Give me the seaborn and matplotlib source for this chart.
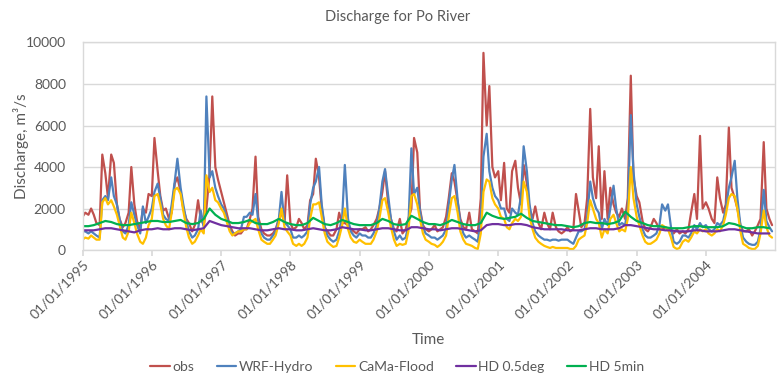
import numpy as np
import pandas as pd
import matplotlib
matplotlib.use("Agg")
import matplotlib.pyplot as plt
import matplotlib.dates as mdates
import seaborn as sns

# ---- data: discharge (m3/s), semi-monthly samples for obs and the two models ----
obs = [
    # 1995
    1600, 1800, 1700, 2000, 1700, 1300, 1200, 4600, 3700, 2500, 4600, 4200,
    2200, 1500, 1100, 1300, 1800, 4000, 2200, 1400, 1000, 2000, 1800, 2700,
    # 1996
    2600, 5400, 3800, 2600, 1900, 2000, 1500, 1800, 3200, 3500, 2800, 2000,
    1500, 1300, 900, 1200, 2400, 1500, 1200, 2000, 3700, 7400, 4000, 3400,
    # 1997
    2800, 2300, 1700, 1200, 900, 700, 800, 800, 1000, 1000, 1500, 2000,
    4500, 1600, 1000, 800, 700, 700, 800, 1000, 1500, 1800, 1300, 3600,
    # 1998
    1300, 1000, 1100, 1500, 1300, 1000, 1200, 2400, 2700, 4400, 3500, 2000,
    1100, 900, 700, 700, 1000, 1800, 1300, 1300, 1200, 1000, 900, 800,
    # 1999
    1000, 1000, 1100, 900, 1000, 1200, 1500, 2000, 2800, 3800, 2200, 1500,
    1000, 900, 1500, 800, 1000, 1500, 2000, 5400, 4700, 2000, 1200, 1000,
    # 2000
    900, 1000, 1200, 900, 1000, 1100, 1600, 2500, 3700, 3300, 2300, 1500,
    1100, 1000, 1800, 1000, 900, 800, 2500, 9500, 6000, 7900, 4000, 3500,
    # 2001
    3800, 2400, 4200, 2000, 1800, 3800, 4300, 3000, 2200, 4100, 3200, 2000,
    1500, 2100, 1300, 1000, 1800, 1300, 1000, 1800, 1100, 900, 800, 900,
    # 2002
    1100, 900, 1000, 2700, 1900, 1100, 1300, 2500, 6800, 3500, 2500, 5000,
    1500, 3800, 1500, 3000, 2200, 1800, 1600, 2000, 1500, 2500, 8400, 3500,
    # 2003
    2600, 2300, 1400, 1000, 900, 1100, 1500, 1300, 1000, 1000, 1100, 1000,
    900, 800, 1000, 800, 900, 800, 1000, 1800, 2700, 1500, 5500, 2000,
    # 2004
    2300, 2000, 1500, 1300, 3500, 2500, 1800, 2200, 5900, 3000, 2500, 2000,
    1200, 900, 900, 1000, 700, 900, 1200, 1500, 5200, 2000, 1500, 1200,
]

wrf_hydro = [
    # 1995
    900, 900, 800, 900, 800, 700, 600, 2400, 2600, 2400, 3500, 2600,
    2200, 1500, 900, 800, 1200, 2300, 1700, 1200, 800, 2100, 1300, 1600,
    # 1996
    2000, 2800, 3200, 2500, 1700, 1500, 1400, 2200, 3300, 4400, 3000, 2200,
    1400, 900, 600, 700, 1000, 1900, 1100, 7400, 3500, 3800, 3000, 2600,
    # 1997
    2200, 2000, 1500, 1000, 800, 800, 900, 1000, 1600, 1600, 1800, 1700,
    2700, 1400, 800, 600, 500, 500, 700, 900, 1500, 2800, 1300, 1200,
    # 1998
    1000, 600, 600, 700, 600, 700, 900, 2200, 3000, 3300, 4000, 2200,
    1100, 700, 500, 400, 500, 900, 1600, 4100, 1500, 900, 700, 600,
    # 1999
    800, 700, 700, 600, 600, 800, 1200, 2000, 3300, 3900, 2600, 1500,
    900, 500, 700, 500, 600, 1200, 4900, 2700, 3000, 1900, 1100, 800,
    # 2000
    700, 600, 600, 500, 600, 700, 1000, 2200, 3400, 4100, 2400, 1300,
    800, 600, 700, 600, 500, 400, 1500, 4500, 5600, 3800, 3000, 2600,
    # 2001
    2400, 2000, 2000, 1500, 1400, 2000, 1800, 1700, 2600, 5000, 3800, 2200,
    1300, 900, 700, 600, 500, 500, 450, 500, 500, 450, 500, 500,
    # 2002
    500, 400, 300, 600, 900, 900, 1000, 1600, 3300, 2500, 2000, 1800,
    1000, 1500, 1200, 2000, 3100, 2000, 1200, 1300, 1200, 2000, 6500, 3800,
    # 2003
    2200, 1600, 1000, 700, 600, 600, 700, 800, 1200, 2200, 1900, 2200,
    1100, 400, 300, 400, 700, 700, 600, 800, 1200, 1000, 1300, 1100,
    # 2004
    1200, 1000, 900, 1000, 1300, 1200, 1400, 2000, 3000, 3500, 4300, 2500,
    1200, 600, 400, 300, 250, 250, 400, 1000, 2900, 1400, 1100, 900,
]

cama_flood = [
    # 1995
    500, 600, 550, 700, 600, 500, 500, 2300, 2500, 2200, 2400, 2100,
    1700, 1200, 600, 500, 900, 1800, 1300, 800, 400, 300, 600, 1200,
    # 1996
    1500, 2600, 2700, 2200, 1500, 1200, 1000, 1800, 2900, 3000, 2700, 1900,
    1100, 600, 300, 400, 700, 1000, 800, 3600, 2800, 3000, 2400, 2300,
    # 1997
    2000, 1800, 1300, 900, 700, 800, 900, 900, 1000, 1000, 1300, 1400,
    1500, 1000, 500, 400, 300, 300, 500, 700, 1300, 2000, 1100, 900,
    # 1998
    700, 300, 200, 300, 200, 300, 600, 1500, 2200, 2200, 2300, 1600,
    800, 400, 250, 150, 200, 600, 1200, 2000, 1000, 600, 400, 350,
    # 1999
    500, 400, 300, 300, 300, 500, 900, 1500, 2400, 2500, 1800, 1100,
    500, 200, 300, 250, 300, 900, 2600, 2700, 2200, 1500, 800, 500,
    # 2000
    400, 300, 250, 150, 250, 400, 700, 1600, 2500, 2600, 1800, 900,
    500, 300, 250, 200, 100, 50, 800, 2800, 3400, 3300, 2500, 2200,
    # 2001
    2000, 1600, 1500, 1100, 1000, 1300, 1500, 1400, 1600, 3300, 2800, 1600,
    1000, 600, 400, 300, 200, 150, 100, 150, 100, 100, 100, 100,
    # 2002
    100, 50, 50, 200, 500, 600, 700, 1300, 2400, 2000, 1500, 1300,
    600, 1000, 800, 1500, 1700, 1300, 900, 1000, 900, 1500, 4000, 2500,
    # 2003
    1600, 1200, 700, 400, 300, 300, 400, 500, 800, 1200, 1100, 1000,
    600, 150, 50, 100, 400, 500, 400, 600, 900, 800, 1000, 900,
    # 2004
    1000, 800, 700, 800, 1000, 900, 1200, 1700, 2500, 2700, 2600, 2000,
    900, 300, 200, 100, 50, 50, 200, 800, 1900, 1100, 700, 600,
]

# ---- monthly values for the two HD model runs ----
hd_05deg = [
    950, 950, 950, 1000, 1050, 1050, 1000, 950, 900, 850, 950, 1000,
    1000, 1050, 1000, 1000, 1050, 1050, 1000, 950, 1000, 1050, 1400, 1300,
    1200, 1150, 1100, 1050, 1050, 1050, 1000, 950, 950, 1000, 1050, 1000,
    1000, 950, 950, 1000, 1050, 1000, 950, 950, 1000, 1100, 1050, 1000,
    1000, 950, 950, 1000, 1050, 1050, 1000, 950, 950, 1100, 1100, 1050,
    1000, 1000, 950, 1000, 1050, 1050, 1000, 950, 900, 950, 1200, 1250,
    1250, 1200, 1200, 1250, 1250, 1200, 1100, 1050, 1000, 1000, 1000, 1000,
    950, 950, 950, 1000, 1050, 1050, 1000, 1000, 1000, 1050, 1200, 1200,
    1150, 1100, 1050, 1000, 1000, 950, 950, 900, 900, 900, 950, 950,
    900, 900, 900, 950, 1000, 1000, 950, 900, 850, 800, 800, 800,
]

hd_5min = [
    1150, 1150, 1200, 1300, 1400, 1350, 1250, 1200, 1200, 1250, 1300, 1350,
    1400, 1400, 1350, 1350, 1400, 1450, 1300, 1250, 1300, 1500, 2000, 1700,
    1500, 1400, 1300, 1300, 1350, 1450, 1300, 1250, 1250, 1350, 1500, 1350,
    1250, 1200, 1200, 1300, 1550, 1400, 1250, 1200, 1300, 1450, 1350, 1250,
    1200, 1200, 1200, 1300, 1500, 1400, 1250, 1200, 1250, 1650, 1500, 1350,
    1250, 1250, 1200, 1300, 1450, 1350, 1250, 1200, 1200, 1300, 1800, 1650,
    1550, 1500, 1550, 1600, 1750, 1550, 1400, 1350, 1300, 1250, 1200, 1200,
    1150, 1100, 1150, 1300, 1350, 1300, 1300, 1250, 1300, 1400, 1850, 1600,
    1400, 1300, 1200, 1150, 1150, 1100, 1050, 1050, 1050, 1100, 1150, 1150,
    1100, 1100, 1100, 1150, 1300, 1250, 1150, 1050, 1050, 1100, 1100, 1050,
]

series_names = ["obs", "WRF-Hydro", "CaMa-Flood", "HD 0.5deg", "HD 5min"]
series_colors = ["#C0504D", "#4F81BD", "#FFC000", "#7030A0", "#00B050"]
year_ticks = list(range(1995, 2005))

semi_monthly = pd.date_range("1995-01-01", "2004-12-31", freq="SMS")
monthly = pd.date_range("1995-01-01", "2004-12-01", freq="MS")

frames = []
for name, dates, vals in [
    ("obs", semi_monthly, obs),
    ("WRF-Hydro", semi_monthly, wrf_hydro),
    ("CaMa-Flood", semi_monthly, cama_flood),
    ("HD 0.5deg", monthly, hd_05deg),
    ("HD 5min", monthly, hd_5min),
]:
    frames.append(pd.DataFrame({"date": dates, "Discharge": vals, "series": name}))
df = pd.concat(frames, ignore_index=True)

# ---- figure ----
sns.set_theme(style="white")
plt.rcParams["font.family"] = ["Lato", "DejaVu Sans"]
text_grey = "#595959"
grid_grey = "#D9D9D9"

fig = plt.figure(figsize=(7.79, 3.76), dpi=100)
ax = fig.add_axes([0.106, 0.335, 0.889, 0.552])

for name, color in zip(series_names, series_colors):
    sns.lineplot(data=df[df["series"] == name], x="date", y="Discharge",
                 color=color, linewidth=1.6, ax=ax, label=name)

ax.set_ylim(0, 10000)
ax.set_yticks(range(0, 10001, 2000))
ax.set_xlim(pd.Timestamp("1995-01-01"), pd.Timestamp("2004-12-31"))
ax.set_xticks([pd.Timestamp(f"{y}-01-01") for y in year_ticks])
ax.xaxis.set_major_formatter(mdates.DateFormatter("%d/%m/%Y"))

ax.yaxis.grid(True, color=grid_grey, linewidth=1)
ax.xaxis.grid(False)
for side in ["left", "right", "top", "bottom"]:
    ax.spines[side].set_color(grid_grey)
    ax.spines[side].set_linewidth(1)

ax.tick_params(axis="x", which="major", bottom=True, length=4, color=grid_grey,
               labelsize=10, labelcolor=text_grey, pad=2)
ax.tick_params(axis="y", left=False, labelsize=10, labelcolor=text_grey, pad=6)
for lbl in ax.get_xticklabels():
    lbl.set_rotation(45)
    lbl.set_ha("right")
    lbl.set_rotation_mode("anchor")

ax.set_xlabel("Time", fontsize=11, color=text_grey)
ax.xaxis.set_label_coords(0.5, -0.40)
ax.set_ylabel("Discharge, m³/s", fontsize=11, color=text_grey)
ax.yaxis.set_label_coords(-0.078, 0.5)
fig.text(0.51, 0.955, "Discharge for Po River", ha="center", va="center",
         fontsize=10.5, color=text_grey)

handles, labels = ax.get_legend_handles_labels()
ax.get_legend().remove()
fig.legend(handles, labels, loc="center", bbox_to_anchor=(0.51, 0.025), ncol=5,
           frameon=False, fontsize=10, handlelength=1.4, handletextpad=0.2,
           columnspacing=1.6, labelcolor=text_grey)

fig.savefig("out.png", dpi=100)
